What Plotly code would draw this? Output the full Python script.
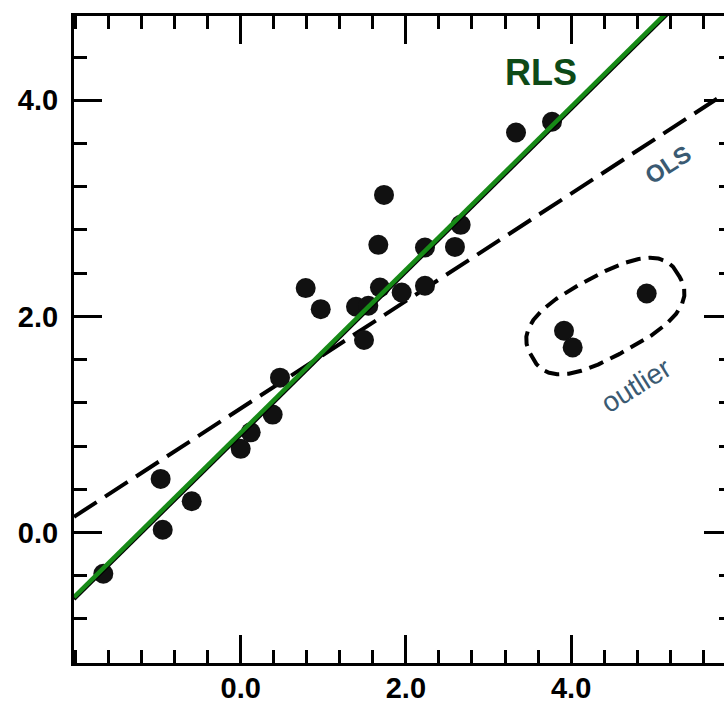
import numpy as np
import plotly.graph_objects as go

# ---- data ----
x_main = [-1.663, -0.969, -0.944, -0.593, 0.000, 0.121, 0.387, 0.476, 0.787, 0.969,
          1.396, 1.545, 1.493, 1.666, 1.735, 1.686, 1.949, 2.231, 2.231, 2.594,
          2.663, 3.333, 3.769]
y_main = [-0.382, 0.496, 0.025, 0.289, 0.774, 0.927, 1.091, 1.433, 2.262, 2.067,
          2.089, 2.098, 1.781, 2.662, 3.124, 2.267, 2.221, 2.283, 2.637, 2.643,
          2.847, 3.702, 3.801]
x_out = [3.914, 4.019, 4.915]
y_out = [1.867, 1.713, 2.212]

rls_intercept, rls_slope = 0.923, 0.754
ols_intercept, ols_slope = 1.148, 0.497

x_ticks = [0.0, 2.0, 4.0]
y_ticks = [0.0, 2.0, 4.0]
x_tick_text = ["0.0", "2.0", "4.0"]
y_tick_text = ["0.0", "2.0", "4.0"]

# ---- layout geometry ----
W, H = 724, 703
ML, MR, MT, MB = 74, 0, 16, 40
xr = [-2.018, 5.851]
yr = [-1.208, 4.78]
plot_w, plot_h = W - ML - MR, H - MT - MB
sx = plot_w / (xr[1] - xr[0])
sy = plot_h / (yr[1] - yr[0])

xl = np.array(xr)
rls_y = rls_intercept + rls_slope * xl
ols_y = ols_intercept + ols_slope * xl

# outlier enclosure: rotated super-ellipse around the outliers (built in pixel space)
cx = (min(x_out) + max(x_out)) / 2
cy = (min(y_out) + max(y_out)) / 2 + 0.04
a_px, b_px, n_exp, ang = 84.0, 40.0, 2.7, np.deg2rad(28.5)
t = np.linspace(0, 2 * np.pi, 400)
u = a_px * np.sign(np.cos(t)) * np.abs(np.cos(t)) ** (2 / n_exp)
v = b_px * np.sign(np.sin(t)) * np.abs(np.sin(t)) ** (2 / n_exp)
px = u * np.cos(ang) - v * np.sin(ang)
py = u * np.sin(ang) + v * np.cos(ang)
ell_x = cx + px / sx
ell_y = cy + py / sy

fig = go.Figure()

# invisible trace that carries the right-hand tick axis
fig.add_trace(go.Scatter(x=xl, y=ols_y, mode="lines", line=dict(width=0, color="rgba(0,0,0,0)"),
                         hoverinfo="skip", showlegend=False, yaxis="y2"))
fig.add_trace(go.Scatter(x=xl, y=ols_y, mode="lines",
                         line=dict(color="black", width=4, dash="27px,10px"),
                         hoverinfo="skip", showlegend=False))
fig.add_trace(go.Scatter(x=ell_x, y=ell_y, mode="lines",
                         line=dict(color="black", width=4, dash="15px,8px"),
                         hoverinfo="skip", showlegend=False))
fig.add_trace(go.Scatter(x=x_main + x_out, y=y_main + y_out, mode="markers",
                         marker=dict(size=20, color="#111111", line=dict(width=0)),
                         showlegend=False))
# dark edge under the RLS line
fig.add_trace(go.Scatter(x=xl, y=rls_y - 2.0 / sy, mode="lines",
                         line=dict(color="black", width=4),
                         hoverinfo="skip", showlegend=False))
fig.add_trace(go.Scatter(x=xl, y=rls_y, mode="lines",
                         line=dict(color="#178a17", width=4.5),
                         hoverinfo="skip", showlegend=False))

font_family = "Liberation Sans, Arial, Helvetica, sans-serif"
tickfont = dict(family=font_family, size=29, color="black", weight="bold")

fig.update_layout(
    width=W, height=H,
    margin=dict(l=ML, r=MR, t=MT, b=MB, pad=0, autoexpand=False),
    paper_bgcolor="white", plot_bgcolor="white",
    showlegend=False,
    xaxis=dict(range=xr, showgrid=False, zeroline=False, automargin=False,
               showline=True, linecolor="black", linewidth=3, mirror="ticks",
               ticks="inside", ticklen=28, tickwidth=3, tickcolor="black",
               tickmode="array", tickvals=x_ticks, ticktext=x_tick_text,
               tickfont=tickfont, ticklabelstandoff=-3,
               minor=dict(ticks="inside", ticklen=13, tickwidth=3, tickcolor="black",
                          tickmode="linear", tick0=0, dtick=0.4, showgrid=False)),
    yaxis=dict(range=yr, showgrid=False, zeroline=False, automargin=False,
               showline=True, linecolor="black", linewidth=3, mirror=False,
               ticks="inside", ticklen=28, tickwidth=3, tickcolor="black",
               tickmode="array", tickvals=y_ticks, ticktext=y_tick_text,
               tickfont=tickfont, ticklabelstandoff=7,
               minor=dict(ticks="inside", ticklen=13, tickwidth=3, tickcolor="black",
                          tickmode="linear", tick0=0, dtick=0.4, showgrid=False)),
    yaxis2=dict(range=yr, overlaying="y", side="right", showgrid=False, zeroline=False,
                showline=False, showticklabels=False, automargin=False,
                ticks="inside", ticklen=20, tickwidth=3, tickcolor="black",
                tickmode="array", tickvals=y_ticks,
                minor=dict(ticks="inside", ticklen=5, tickwidth=3, tickcolor="black",
                           tickmode="linear", tick0=0, dtick=0.4, showgrid=False)),
    annotations=[
        dict(x=3.636, y=4.26, xref="x", yref="y", text="<b>RLS</b>", showarrow=False,
             font=dict(family=font_family, size=36, color="#0d4a17")),
        dict(x=5.172, y=3.41, xref="x", yref="y", text="<b>OLS</b>", showarrow=False,
             textangle=-33, font=dict(family=font_family, size=24, color="#3a5a72")),
        dict(x=4.786, y=1.359, xref="x", yref="y", text="outlier", showarrow=False,
             textangle=-32, font=dict(family=font_family, size=28, color="#3a5a72")),
    ],
)

# remove the default page margin so the figure fills the 724x703 window exactly
fig.write_html(
    "out.html",
    config={"displayModeBar": False},
    post_script="document.body.style.margin='0';document.body.style.overflow='hidden';",
)
